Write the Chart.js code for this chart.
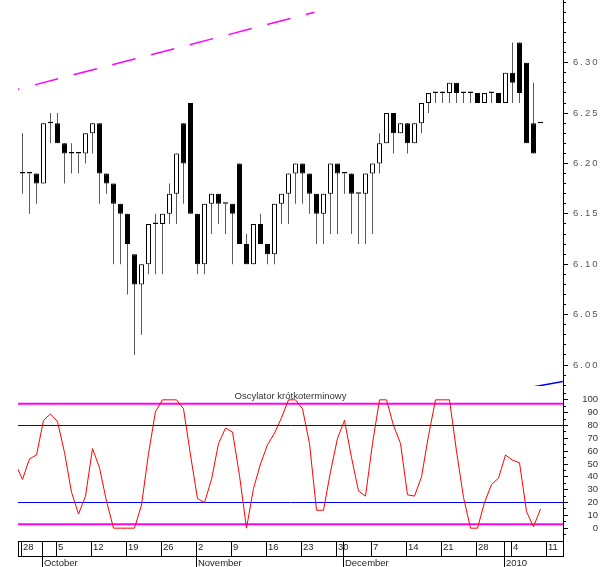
<!DOCTYPE html>
<html lang="pl">
<head>
<meta charset="utf-8">
<title>Oscylator krótkoterminowy</title>
<script src="https://cdn.jsdelivr.net/npm/chart.js@4.4.1/dist/chart.umd.min.js"></script>
<style>
  html, body { margin:0; padding:0; background:#fff; }
  #wrap { position:relative; width:605px; height:567px; overflow:hidden; background:#fff; }
  #wrap canvas { position:absolute; left:0; }
  #priceCanvas { top:0; }
  #oscCanvas { top:386px; }
</style>
</head>
<body>
<div id="wrap">
  <canvas id="priceCanvas" width="605" height="386"></canvas>
  <canvas id="oscCanvas" width="605" height="181"></canvas>
</div>
<script>
// ---------------- data (index 0 = first trading day, 2009-09-25) ----------------
const firstDay = '2009-09-25';

const openPrice = [null,
  6.19, 6.19, 6.19, 6.18, 6.24,
  6.24, 6.22, 6.21, 6.21, 6.21,
  6.23, 6.24, 6.19, 6.18, 6.16,
  6.15, 6.11, 6.08, 6.10, 6.14,
  6.14, 6.15, 6.17, 6.24, 6.26,
  6.15, 6.10, 6.16, 6.17, 6.16,
  6.16, 6.20, 6.12, 6.10, 6.14,
  6.12, 6.11, 6.16, 6.17, 6.19,
  6.20, 6.19, 6.17, 6.15, 6.17,
  6.20, 6.19, 6.19, 6.17, 6.17,
  6.19, 6.20, 6.22, 6.25, 6.23,
  6.24, 6.22, 6.24, 6.26, 6.27,
  6.27, 6.27, 6.28, 6.27, 6.27,
  6.27, 6.26, 6.27, 6.27, 6.26,
  6.29, 6.32, 6.30, 6.24, 6.24];

const highPrice = [null,
  6.23, 6.19, 6.19, 6.24, 6.25,
  6.25, 6.22, 6.22, 6.21, 6.23,
  6.24, 6.24, 6.19, 6.18, 6.16,
  6.15, 6.11, 6.10, 6.14, 6.15,
  6.15, 6.18, 6.21, 6.24, 6.26,
  6.15, 6.16, 6.17, 6.17, 6.16,
  6.16, 6.20, 6.13, 6.14, 6.15,
  6.12, 6.16, 6.17, 6.19, 6.20,
  6.20, 6.19, 6.17, 6.17, 6.20,
  6.20, 6.19, 6.19, 6.17, 6.19,
  6.20, 6.23, 6.25, 6.25, 6.24,
  6.24, 6.24, 6.26, 6.27, 6.27,
  6.27, 6.28, 6.28, 6.27, 6.27,
  6.27, 6.27, 6.27, 6.27, 6.29,
  6.32, 6.32, 6.30, 6.28, 6.24];

const lowPrice = [null,
  6.17, 6.15, 6.16, 6.18, 6.22,
  6.22, 6.18, 6.19, 6.19, 6.20,
  6.21, 6.16, 6.17, 6.10, 6.10,
  6.07, 6.01, 6.03, 6.09, 6.09,
  6.09, 6.14, 6.14, 6.16, 6.15,
  6.09, 6.09, 6.13, 6.14, 6.13,
  6.10, 6.12, 6.10, 6.10, 6.12,
  6.10, 6.10, 6.14, 6.14, 6.16,
  6.16, 6.15, 6.12, 6.12, 6.13,
  6.13, 6.17, 6.13, 6.12, 6.12,
  6.13, 6.19, 6.22, 6.21, 6.23,
  6.21, 6.22, 6.23, 6.25, 6.26,
  6.26, 6.26, 6.26, 6.26, 6.26,
  6.26, 6.26, 6.26, 6.26, 6.26,
  6.26, 6.26, 6.22, 6.21, 6.24];

const closePrice = [null,
  6.19, 6.19, 6.18, 6.24, 6.24,
  6.22, 6.21, 6.21, 6.21, 6.23,
  6.24, 6.19, 6.18, 6.16, 6.15,
  6.12, 6.08, 6.10, 6.14, 6.14,
  6.15, 6.17, 6.21, 6.20, 6.15,
  6.10, 6.16, 6.17, 6.16, 6.16,
  6.15, 6.12, 6.10, 6.14, 6.12,
  6.11, 6.16, 6.17, 6.19, 6.20,
  6.19, 6.17, 6.15, 6.17, 6.20,
  6.19, 6.19, 6.17, 6.17, 6.19,
  6.20, 6.22, 6.25, 6.23, 6.24,
  6.22, 6.24, 6.26, 6.27, 6.27,
  6.27, 6.28, 6.27, 6.27, 6.27,
  6.26, 6.27, 6.27, 6.26, 6.29,
  6.28, 6.27, 6.22, 6.21, 6.24];

const oscillator = [50,
  38, 54, 57, 84, 89,
  83, 59, 28, 11, 25,
  62, 47, 21, 0, 0,
  0, 0, 18, 58, 91,
  100, 100, 100, 93, 57,
  23, 20, 38, 66, 78,
  75, 41, 0, 31, 50,
  65, 74, 86, 100, 100,
  93, 66, 14, 14, 44,
  70, 84, 55, 29, 25,
  66, 100, 100, 80, 66,
  26, 25, 40, 72, 100,
  100, 100, 60, 24, 0,
  0, 20, 34, 39, 57,
  53, 51, 13, 1, 15];

const oscLevels = [97, 80, 20, 3];
const oscLevelColors = ['#ff00ff', '#0000ff', '#0000ff', '#ff00ff'];

// trend lines: [trading-day index, price]
const upperTrend = [[0, 6.273], [42.7, 6.350]];
const lowerTrend = [[71, 5.9746], [78.2, 5.9836]];

const priceTicks = [6.00, 6.05, 6.10, 6.15, 6.20, 6.25, 6.30];
const oscTicks = [0, 10, 20, 30, 40, 50, 60, 70, 80, 90, 100];
const weekStarts = ['2009-09-28', '2009-10-05', '2009-10-12', '2009-10-19', '2009-10-26',
  '2009-11-02', '2009-11-09', '2009-11-16', '2009-11-23', '2009-11-30',
  '2009-12-07', '2009-12-14', '2009-12-21', '2009-12-28', '2010-01-04', '2010-01-11'];
const weekLabels = ['28', '5', '12', '19', '26', '2', '9', '16', '23', '30', '7', '14', '21', '28', '4', '11'];
const monthStarts = ['2009-10-01', '2009-11-02', '2009-12-01', '2010-01-01'];
const monthLabels = ['October', 'November', 'December', '2010'];
const chartTitle = 'Oscylator krótkoterminowy';

// ---------------- helpers ----------------
const FONT = '"Liberation Sans", Arial, Helvetica, sans-serif';
const X_MIN = 1 - 4.5 / 7;
const X_MAX = X_MIN + 545 / 7;
const P_MIN = 5.97916, P_MAX = 6.36222;
const O_MIN = -10.0, O_MAX = 110.78;

const weekdays = [];
{
  const [y, m, d] = firstDay.split('-').map(Number);
  for (let t = Date.UTC(y, m - 1, d); weekdays.length < 90; t += 86400000) {
    const dt = new Date(t); const w = dt.getUTCDay();
    if (w !== 0 && w !== 6) weekdays.push(dt.toISOString().slice(0, 10));
  }
}
const dayIndex = s => weekdays.indexOf(s);
const TICK_SHIFT = 0.15;

// day row ticks (weeks + month boundaries)
const dayRow = [[X_MIN, '']];
weekStarts.forEach((s, k) => dayRow.push([dayIndex(s) - TICK_SHIFT, weekLabels[k]]));
monthStarts.forEach(s => { if (!weekStarts.includes(s)) dayRow.push([dayIndex(s) - TICK_SHIFT, '']); });
dayRow.push([X_MAX, '']);
dayRow.sort((a, b) => a[0] - b[0]);
const monthRow = monthStarts.map((s, k) => [dayIndex(s) - TICK_SHIFT, monthLabels[k]]);

const bodies = [], wicks = [];
openPrice.forEach((o, i) => {
  if (o == null) return;
  bodies.push({ x: i, y: [o, closePrice[i]] });
  wicks.push({ x: i, y: [lowPrice[i], highPrice[i]] });
});

const minorTicks = {
  id: 'minorTicks',
  afterDraw(chart, args, opts) {
    const s = chart.scales.y, ctx = chart.ctx, area = chart.chartArea;
    ctx.save();
    ctx.strokeStyle = '#000'; ctx.lineWidth = 1;
    ctx.beginPath();
    const n = Math.round((opts.to - opts.from) / opts.step);
    for (let k = 0; k <= n; k++) {
      const v = opts.from + k * opts.step;
      const py = Math.round(s.getPixelForValue(v) - 0.5) + 0.5;
      if (py < area.top || py > area.bottom + 0.5) continue;
      ctx.moveTo(s.left, py); ctx.lineTo(s.left + opts.len, py);
    }
    ctx.stroke();
    ctx.restore();
  }
};
const letterSpace = {
  id: 'letterSpace',
  beforeDraw(chart, args, opts) { chart.ctx.letterSpacing = opts.value; },
  afterDraw(chart) { chart.ctx.letterSpacing = '0px'; }
};
const noPad = s => { s.paddingTop = 0; s.paddingBottom = 0; s.paddingLeft = 0; s.paddingRight = 0; };

const baseOpts = {
  responsive: false, animation: false, devicePixelRatio: 1, events: []
};

// ---------------- price chart ----------------
new Chart(document.getElementById('priceCanvas'), {
  type: 'bar',
  data: {
    datasets: [
      { type: 'line', data: upperTrend.map(p => ({ x: p[0], y: p[1] })), borderColor: '#ff00ff',
        borderWidth: 1.5, borderDash: [24, 16], borderDashOffset: 20, pointRadius: 0, order: 0 },
      { type: 'line', data: lowerTrend.map(p => ({ x: p[0], y: p[1] })), borderColor: '#0000ff',
        borderWidth: 1.5, pointRadius: 0, order: 0 },
      { type: 'bar', data: bodies, grouped: false, barThickness: 5, minBarLength: 1.5, inflateAmount: 0,
        borderSkipped: false, borderWidth: 1, borderColor: '#000',
        backgroundColor: c => (c.raw && c.raw.y[1] > c.raw.y[0]) ? '#ffffff' : '#000000', order: 1 },
      { type: 'bar', data: wicks, grouped: false, barThickness: 1, inflateAmount: 0,
        borderWidth: 0, backgroundColor: '#5a5a5a', order: 2 }
    ]
  },
  options: Object.assign({}, baseOpts, {
    layout: { padding: { left: 18, right: 0, top: 0, bottom: 0 } },
    plugins: {
      legend: { display: false }, tooltip: { enabled: false }, title: { display: false },
      minorTicks: { from: 5.98, to: 6.36, step: 0.01, len: 3 },
      letterSpace: { value: '2px' }
    },
    scales: {
      x: { type: 'linear', display: false, min: X_MIN, max: X_MAX, offset: false, afterFit: noPad },
      y: {
        type: 'linear', position: 'right', min: P_MIN, max: P_MAX, beginAtZero: false,
        afterBuildTicks: s => { s.ticks = priceTicks.map(v => ({ value: v })); },
        afterFit: s => { s.width = 42; noPad(s); },
        grid: { drawOnChartArea: false, drawTicks: true, tickLength: 5, color: '#000', lineWidth: 1 },
        border: { display: true, color: '#000', width: 1 },
        ticks: { autoSkip: false, padding: 5, color: '#555', font: { family: FONT, size: 9.5 },
          callback: v => Number(v).toFixed(2) }
      }
    }
  }),
  plugins: [minorTicks, letterSpace]
});

// ---------------- oscillator chart ----------------
const oscDatasets = [
  { data: oscillator.map((v, i) => ({ x: i, y: v })), borderColor: '#ff0000', borderWidth: 1,
    pointRadius: 0, tension: 0, order: 0 }
];
oscLevels.forEach((lv, k) => oscDatasets.push({
  data: [{ x: X_MIN, y: lv }, { x: X_MAX, y: lv }], borderColor: oscLevelColors[k],
  borderWidth: (k === 0 || k === 3) ? 2 : 1, pointRadius: 0, order: 1
}));

new Chart(document.getElementById('oscCanvas'), {
  type: 'line',
  data: { datasets: oscDatasets },
  options: Object.assign({}, baseOpts, {
    layout: { padding: { left: 18, right: 7, top: 0, bottom: 0 } },
    plugins: {
      legend: { display: false }, tooltip: { enabled: false },
      title: { display: true, text: chartTitle, position: 'top', fullSize: false, color: '#333',
        font: { family: FONT, size: 9.5, weight: 'normal', lineHeight: 1.2 },
        padding: { top: 4.3, bottom: -15.7 } },
      minorTicks: { from: -5, to: 105, step: 5, len: 3 }
    },
    scales: {
      x: {
        type: 'linear', position: 'bottom', weight: 0, min: X_MIN, max: X_MAX, offset: false,
        afterBuildTicks: s => { s.ticks = dayRow.map(d => ({ value: d[0] })); },
        afterFit: s => { s.height = 15; noPad(s); },
        grid: { drawOnChartArea: false, drawTicks: true, tickLength: 15, color: '#000', lineWidth: 1 },
        border: { display: true, color: '#000', width: 1 },
        ticks: { autoSkip: false, maxRotation: 0, minRotation: 0, align: 'start', labelOffset: 1.5,
          padding: -14.2, color: '#222', font: { family: FONT, size: 9.5 },
          callback: (v, i) => dayRow[i] ? dayRow[i][1] : '' }
      },
      x2: {
        type: 'linear', axis: 'x', position: 'bottom', weight: 1, min: X_MIN, max: X_MAX, offset: false,
        afterBuildTicks: s => { s.ticks = monthRow.map(d => ({ value: d[0] })); },
        afterFit: s => { s.height = 11; noPad(s); },
        grid: { drawOnChartArea: false, drawTicks: true, tickLength: 11, color: '#000', lineWidth: 1 },
        border: { display: true, color: '#000', width: 1 },
        ticks: { autoSkip: false, maxRotation: 0, minRotation: 0, align: 'start', labelOffset: 1.5,
          padding: -9.4, color: '#222', font: { family: FONT, size: 9.5 },
          callback: (v, i) => monthRow[i] ? monthRow[i][1] : '' }
      },
      y: {
        type: 'linear', position: 'right', min: O_MIN, max: O_MAX,
        afterBuildTicks: s => { s.ticks = oscTicks.map(v => ({ value: v })); },
        afterFit: s => { s.width = 35; noPad(s); },
        grid: { drawOnChartArea: false, drawTicks: true, tickLength: 5, color: '#000', lineWidth: 1 },
        border: { display: true, color: '#000', width: 1 },
        ticks: { autoSkip: false, crossAlign: 'far', padding: 14, color: '#333',
          font: { family: FONT, size: 9.5 }, callback: v => String(v) }
      }
    }
  }),
  plugins: [minorTicks]
});
</script>
</body>
</html>
